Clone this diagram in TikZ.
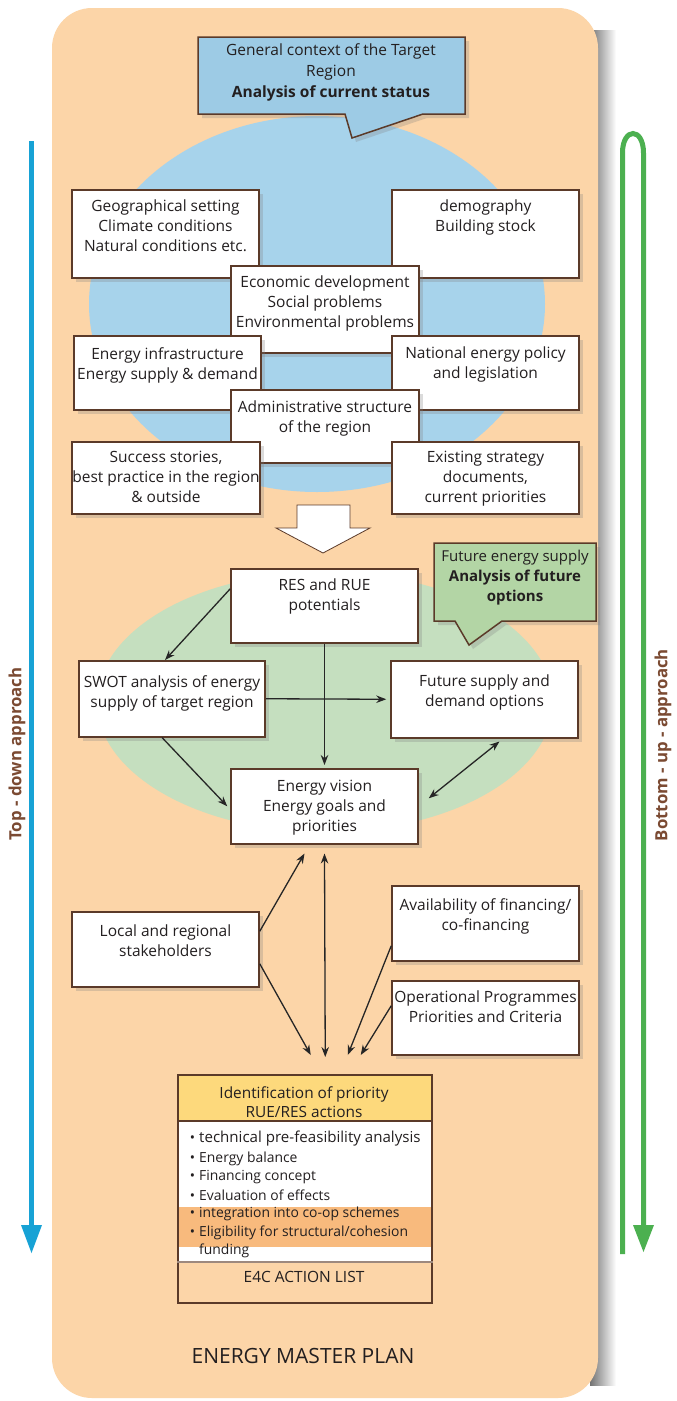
\documentclass[tikz,border=0pt]{standalone}
\usepackage{fontspec}
\setmainfont{Open Sans}
\usetikzlibrary{shadows,arrows.meta,calc}
\definecolor{bgpeach}{HTML}{FCD5A8}
\definecolor{ellblue}{HTML}{A7D3EB}
\definecolor{callblue}{HTML}{9DCBE5}
\definecolor{ellgreen}{HTML}{C5DFBF}
\definecolor{callgreen}{HTML}{B3D5A5}
\definecolor{bord}{HTML}{5B3A29}
\definecolor{txt}{HTML}{231F20}
\definecolor{bluearr}{HTML}{17A2D5}
\definecolor{greenarr}{HTML}{4CB050}
\definecolor{sidetxt}{HTML}{7B4A32}
\definecolor{hdryellow}{HTML}{FDD97C}
\definecolor{band}{HTML}{F8BA7D}
\newcommand\bx[7]{%
  \node[box, minimum width=#4pt, minimum height=#5pt, anchor=north] (#1) at (#2,#3) {};
  \node[boxtext] (#1-t) at ([yshift=-#6pt-3pt]#1.north) {#7};}
\begin{document}
\begin{tikzpicture}[x=1pt,y=-1pt,
  box/.style={draw=bord, line width=1.5pt, fill=white, inner sep=0pt,
    drop shadow={shadow xshift=4pt, shadow yshift=-4pt, opacity=0.28}},
  boxtext/.style={font=\fontsize{15.5}{20}\selectfont, text=txt, align=center,
    inner sep=0pt, anchor=north, execute at begin node={\rule{0pt}{14pt}}},
  ctext/.style={font=\fontsize{15.5}{20.5}\selectfont, text=txt, align=center, inner sep=0pt},
  arr/.style={line width=1.3pt, draw=black!85, -{Stealth[length=10pt,width=7.5pt]}},
  darr/.style={line width=1.3pt, draw=black!85, {Stealth[length=10pt,width=7.5pt]}-{Stealth[length=10pt,width=7.5pt]}},
  litem/.style={font=\fontsize{13.9}{16}\selectfont, text=txt, anchor=west, inner sep=0pt}]
\useasboundingbox (0,0) rectangle (677,1401);
\fill[white] (0,0) rectangle (677,1401);
% background panel and its shadow
\shade[left color=black!55, right color=white] (590,30) rectangle (616,1385);
\fill[bgpeach, rounded corners=40pt] (52,8) rectangle (598,1398);
% ellipses
\fill[ellblue] (317,304) ellipse [x radius=228, y radius=188];
\fill[ellgreen] (325,702) ellipse [x radius=228, y radius=130];
% top callout
\draw[fill=callblue, draw=bord, line width=1.5pt, line join=miter,
  drop shadow={shadow xshift=4pt, shadow yshift=-4pt, opacity=0.28}]
  (198,37) -- (465,37) -- (465,114) -- (423,114) -- (352,138) -- (345,114) -- (198,114) -- cycle;
\node[ctext, font=\fontsize{15.5}{21}\selectfont] (ctx) at (331,72) {General context of the Target\\Region\\\textbf{Analysis of current status}};
% side arrows
\draw[line width=5pt, bluearr] (31.5,141) -- (31.5,1228);
\fill[bluearr] (21,1225) -- (42,1225) -- (31.5,1253) -- cycle;
\draw[line width=5pt, greenarr] (622.5,1254) -- (622.5,153) .. controls (622.5,127) and (643.5,127) .. (643.5,153) -- (643.5,1228);
\fill[greenarr] (633,1225) -- (654,1225) -- (643.5,1252) -- cycle;
\node[rotate=90, font=\fontsize{16.8}{18}\selectfont\bfseries, text=sidetxt] (td) at (17,754) {Top - down approach};
\node[rotate=90, font=\fontsize{16.8}{18}\selectfont\bfseries, text=sidetxt] (bu) at (663,745) {Bottom - up - approach};
% upper boxes
\bx{geo}{165.5}{189}{187}{88}{8}{Geographical setting\\Climate conditions\\Natural conditions etc.}
\bx{demo}{485.5}{189}{187}{88}{8}{demography\\Building stock}
\bx{econ}{325}{265}{188}{87}{8}{Economic development\\Social problems\\Environmental problems}
\bx{infra}{167.5}{335}{187}{74}{9}{Energy infrastructure\\Energy supply \& demand}
\bx{natl}{485.5}{335}{187}{74}{9}{National energy policy\\and legislation}
\bx{admin}{325}{389}{188}{73}{9}{Administrative structure\\of the region}
\bx{succ}{166}{441}{188}{72}{7}{Success stories,\\best practice in the region\\\& outside}
\bx{exist}{485.5}{441}{187}{72}{7}{Existing strategy\\documents,\\current priorities}
% big white arrow
\draw[fill=white, draw=bord, line width=0.8pt, line join=miter] (297,505) -- (350,505) -- (350,528) -- (370,528) -- (323,553) -- (276,528) -- (297,528) -- cycle;
% green callout
\draw[fill=callgreen, draw=bord, line width=1.5pt, line join=miter,
  drop shadow={shadow xshift=4pt, shadow yshift=-4pt, opacity=0.28}]
  (434,543) -- (596,543) -- (596,621) -- (502,621) -- (469,645) -- (455,621) -- (434,621) -- cycle;
\node[ctext, font=\fontsize{15}{20}\selectfont] (fes) at (515,578) {Future energy supply\\\textbf{Analysis of future}\\\textbf{options}};
% lower boxes
\bx{res}{324.5}{568}{187}{74}{8}{RES and RUE\\potentials}
\bx{swot}{172}{660}{186}{76}{12}{SWOT analysis of energy\\supply of target region}
\bx{fut}{484.5}{660}{187}{77}{12}{Future supply and\\demand options}
\bx{vis}{324.5}{768}{187}{75}{9}{Energy vision\\Energy goals and\\priorities}
\bx{local}{165.5}{911}{187}{75}{11}{Local and regional\\stakeholders}
\bx{avail}{485.5}{885}{187}{75}{10}{Availability of financing/\\co-financing}
\bx{oper}{485.5}{980}{187}{74}{8}{Operational Programmes\\Priorities and Criteria}
% action list box
\fill[hdryellow] (177,1074) rectangle (431,1121);
\fill[white] (177,1121) rectangle (431,1262);
\fill[band] (177,1207) rectangle (431,1247);
\node[draw=bord, line width=1.5pt, minimum width=254pt, minimum height=228pt, anchor=north west, inner sep=0pt] (act) at (177,1074) {};
\draw[bord, line width=1.2pt] ($(act.north west)+(0,47)$) -- ($(act.north east)+(0,47)$);
\draw[bord!60, line width=1.8pt] ($(act.north west)+(0,188)$) -- ($(act.north east)+(0,188)$);
\node[ctext, font=\fontsize{15.4}{19}\selectfont] (hdr) at (304,1102) {Identification of priority\\RUE/RES actions};
\node[litem, font=\fontsize{15.1}{16}\selectfont] (l1) at (186,1139) {\makebox[13pt][l]{\fontsize{13.9}{16}\selectfont\ •}technical pre-feasibility analysis};
\node[litem] (l2) at (186,1158.5) {\makebox[13pt][l]{\ •}Energy balance};
\node[litem] (l3) at (186,1177) {\makebox[13pt][l]{\ •}Financing concept};
\node[litem] (l4) at (186,1195.5) {\makebox[13pt][l]{\ •}Evaluation of effects};
\node[litem] (l5) at (186,1214) {\makebox[13pt][l]{\ •}integration into co-op schemes};
\node[litem] (l6) at (186,1232.5) {\makebox[13pt][l]{\ •}Eligibility for structural/cohesion};
\node[litem] (l7) at (186,1251) {\makebox[13pt][l]{}funding};
\node[ctext] (e4c) at (304,1277) {E4C ACTION LIST};
% title
\node[font=\fontsize{21}{24}\selectfont, text=txt] (emp) at (303,1356) {ENERGY MASTER PLAN};
% connectors
\draw[arr] ([yshift=17pt]res.west) -- ([xshift=-7pt]swot.north);
\draw[arr] (res.south) -- ([yshift=3pt]vis.north);
\draw[arr] (swot.east) -- ([xshift=-4pt]fut.west);
\draw[arr] ([xshift=-10pt]swot.south) -- ([xshift=-3pt]vis.west);
\draw[darr] ([xshift=15pt,yshift=-3pt]fut.south) -- ([xshift=10pt,yshift=8pt]vis.east);
\draw[arr] ([yshift=18pt]local.east) -- ([xshift=-20pt,yshift=-9pt]vis.south);
\draw[darr] ([yshift=-9pt]vis.south) -- ([xshift=20.5pt,yshift=17pt]act.north);
\draw[arr] ([yshift=-14.5pt]local.east) -- ([xshift=6pt,yshift=19pt]act.north);
\draw[arr] ([yshift=-22.5pt]avail.west) -- ([xshift=43pt,yshift=19pt]act.north);
\draw[arr] ([yshift=12pt]oper.west) -- ([xshift=56pt,yshift=19pt]act.north);
\end{tikzpicture}
\end{document}
